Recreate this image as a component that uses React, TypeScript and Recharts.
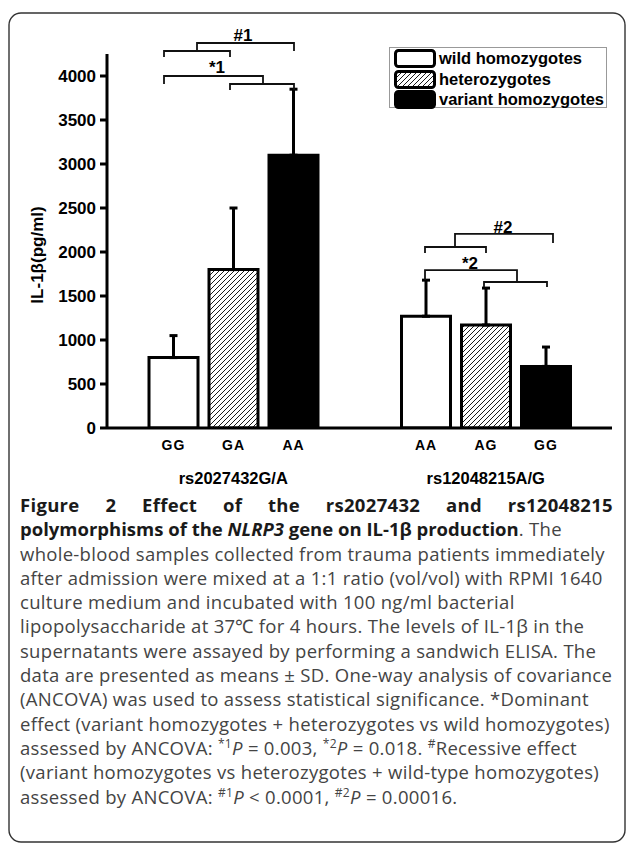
import { Bar, BarChart, ErrorBar, LabelList, XAxis, YAxis } from "recharts";

const groups = ["rs2027432G/A", "rs12048215A/G"];
const wildLabels = ["GG", "AA"];
const heteroLabels = ["GA", "AG"];
const variantLabels = ["AA", "GG"];
const wildMean = [800, 1270];
const wildSd = [250, 410];
const heteroMean = [1800, 1170];
const heteroSd = [700, 420];
const variantMean = [3100, 700];
const variantSd = [750, 220];
const yTicks = [0, 500, 1000, 1500, 2000, 2500, 3000, 3500, 4000];
const yMax = 4250;

const legendItems = [
  { label: "wild homozygotes", fill: "#fff" },
  { label: "heterozygotes", fill: "url(#hatch)" },
  { label: "variant homozygotes", fill: "#000" },
];

// significance brackets: x in px, y in pg/ml
const brackets = [
  { x1: 164, x2: 230, y: 4284, yL: 4216, yR: 4216 },
  { x1: 197, x2: 294, y: 4375, yL: 4284, yR: 4284 },
  { x1: 164, x2: 263, y: 4000, yL: 3909, yR: 3909 },
  { x1: 230, x2: 294, y: 3909, yL: 3841, yR: 3841 },
  { x1: 425, x2: 486, y: 2057, yL: 1989, yR: 1989 },
  { x1: 455, x2: 553, y: 2205, yL: 2057, yR: 2102 },
  { x1: 425, x2: 517, y: 1795, yL: 1682, yR: 1659 },
  { x1: 484, x2: 547, y: 1659, yL: 1602, yR: 1602 },
];
const bracketLabels = [
  { text: "#1", x: 243, y: 4466 },
  { text: "*1", x: 217, y: 4102 },
  { text: "#2", x: 503, y: 2284 },
  { text: "*2", x: 470, y: 1875 },
];

const W = 629;
const H = 490;
const M = { top: 54, right: 17, bottom: 0, left: 47 };
const X_AXIS_H = 62;
const plotBottom = H - M.bottom - X_AXIS_H;
const plotH = plotBottom - M.top;
const yPx = (v: number) => plotBottom - (v / yMax) * plotH;

const data = groups.map((g, i) => ({
  group: g,
  wild: wildMean[i],
  wildErr: [0, wildSd[i]],
  hetero: heteroMean[i],
  heteroErr: [0, heteroSd[i]],
  variant: variantMean[i],
  variantErr: [0, variantSd[i]],
}));

const chartFont = "'Liberation Sans', Arial, sans-serif";

const barLabel = (labels: string[]) => (props: any) => {
  const { x, y, width, height, index } = props;
  return (
    <text
      x={x + width / 2}
      y={y + height + 22}
      textAnchor="middle"
      fontFamily={chartFont}
      fontWeight="bold"
      fontSize={14}
      letterSpacing={1}
      fill="#000"
    >
      {labels[index]}
    </text>
  );
};

const GroupTick = (props: any) => {
  const { x, y, payload } = props;
  return (
    <text
      x={x}
      y={y + 54}
      textAnchor="middle"
      fontFamily={chartFont}
      fontWeight="bold"
      fontSize={16.5}
      fill="#000"
    >
      {payload.value}
    </text>
  );
};

const captionStyle: React.CSSProperties = {
  position: "absolute",
  left: 20,
  top: 493,
  width: 593,
  fontFamily: "'Open Sans', sans-serif",
  fontSize: 18.5,
  letterSpacing: 0.3,
  lineHeight: "24.3px",
  color: "#444",
};

const line: React.CSSProperties = { whiteSpace: "nowrap", height: 24.3 };
const sup: React.CSSProperties = { fontSize: "0.65em", verticalAlign: "0.55em", lineHeight: 0 };

export default function App() {
  return (
    <div
      style={{
        position: "absolute",
        left: 0,
        top: 0,
        width: W,
        height: 844,
        background: "#fff",
        overflow: "hidden",
      }}
    >
      <svg width={0} height={0} style={{ position: "absolute" }}>
        <defs>
          <pattern id="hatch" patternUnits="userSpaceOnUse" width={5} height={5}>
            <rect width={5} height={5} fill="#fff" />
            <path d="M-1,1 l2,-2 M0,5 l5,-5 M4,6 l2,-2" stroke="#000" strokeWidth={0.9} />
          </pattern>
        </defs>
      </svg>

      <svg width={W} height={844} style={{ position: "absolute", left: 0, top: 0 }}>
        <rect x={9} y={13} width={616} height={829} rx={12} fill="none" stroke="#333" strokeWidth={1.4} />
      </svg>

      <div style={{ position: "absolute", left: 0, top: 0 }}>
        <BarChart width={W} height={H} data={data} margin={M} barSize={49} barGap={11}>
          <XAxis
            dataKey="group"
            height={X_AXIS_H}
            tickLine={false}
            tickSize={0}
            axisLine={{ stroke: "#000", strokeWidth: 3 }}
            tick={<GroupTick />}
            interval={0}
          />
          <YAxis
            domain={[0, yMax]}
            ticks={yTicks}
            width={60}
            tickSize={7}
            tickMargin={4}
            axisLine={{ stroke: "#000", strokeWidth: 3 }}
            tickLine={{ stroke: "#000", strokeWidth: 3 }}
            tick={{ fill: "#000", fontFamily: chartFont, fontWeight: "bold", fontSize: 17 }}
            allowDataOverflow
          />
          <Bar dataKey="wild" fill="#fff" stroke="#000" strokeWidth={3} isAnimationActive={false}>
            <ErrorBar dataKey="wildErr" direction="y" width={4} stroke="#000" strokeWidth={3} />
            <LabelList dataKey="wild" content={barLabel(wildLabels)} />
          </Bar>
          <Bar dataKey="hetero" fill="url(#hatch)" stroke="#000" strokeWidth={3} isAnimationActive={false}>
            <ErrorBar dataKey="heteroErr" direction="y" width={4} stroke="#000" strokeWidth={3} />
            <LabelList dataKey="hetero" content={barLabel(heteroLabels)} />
          </Bar>
          <Bar dataKey="variant" fill="#000" stroke="#000" strokeWidth={3} isAnimationActive={false}>
            <ErrorBar dataKey="variantErr" direction="y" width={4} stroke="#000" strokeWidth={3} />
            <LabelList dataKey="variant" content={barLabel(variantLabels)} />
          </Bar>
        </BarChart>
      </div>

      {/* y label, brackets */}
      <svg width={W} height={H} style={{ position: "absolute", left: 0, top: 0, pointerEvents: "none" }}>
        <text
          transform="translate(43,255) rotate(-90)"
          textAnchor="middle"
          fontFamily={chartFont}
          fontWeight="bold"
          fontSize={17}
          fill="#000"
        >
          IL-1β(pg/ml)
        </text>
        {brackets.map((b, i) => (
          <path
            key={i}
            d={`M${b.x1},${yPx(b.yL)} V${yPx(b.y)} H${b.x2} V${yPx(b.yR)}`}
            fill="none"
            stroke="#111"
            strokeWidth={1.8}
          />
        ))}
        {bracketLabels.map((l) => (
          <text
            key={l.text}
            x={l.x}
            y={yPx(l.y) + 6}
            textAnchor="middle"
            fontFamily={chartFont}
            fontWeight="bold"
            fontSize={17}
            fill="#000"
          >
            {l.text}
          </text>
        ))}
      </svg>

      {/* legend */}
      <div
        style={{
          position: "absolute",
          left: 389,
          top: 47,
          width: 218,
          height: 61,
          border: "1px solid #999",
          boxSizing: "border-box",
          padding: "1px 0 0 4px",
        }}
      >
        {legendItems.map((it) => (
          <div key={it.label} style={{ display: "flex", alignItems: "center", height: 19.5, marginBottom: 1 }}>
            <svg width={42} height={19}>
              <rect x={1.5} y={1.5} width={39} height={16} rx={3} fill={it.fill} stroke="#000" strokeWidth={3} />
            </svg>
            <span
              style={{
                marginLeft: 3,
                fontFamily: chartFont,
                fontWeight: "bold",
                fontSize: 16.5,
                color: "#000",
                whiteSpace: "nowrap",
              }}
            >
              {it.label}
            </span>
          </div>
        ))}
      </div>

      {/* caption */}
      <div style={captionStyle}>
        <div style={{ ...line, display: "flex", justifyContent: "space-between", fontWeight: "bold", color: "#1a1a1a" }}>
          {"Figure 2 Effect of the rs2027432 and rs12048215".split(" ").map((w, i) => (
            <span key={i}>{w}</span>
          ))}
        </div>
        <div style={line}>
          <b style={{ color: "#1a1a1a", letterSpacing: 0 }}>
            polymorphisms of the <i>NLRP3</i> gene on IL-1β production
          </b>
          . The
        </div>
        <div style={line}>whole-blood samples collected from trauma patients immediately</div>
        <div style={line}>after admission were mixed at a 1:1 ratio (vol/vol) with RPMI 1640</div>
        <div style={line}>culture medium and incubated with 100 ng/ml bacterial</div>
        <div style={line}>lipopolysaccharide at 37℃ for 4 hours. The levels of IL-1β in the</div>
        <div style={line}>supernatants were assayed by performing a sandwich ELISA. The</div>
        <div style={line}>data are presented as means ± SD. One-way analysis of covariance</div>
        <div style={line}>(ANCOVA) was used to assess statistical significance. *Dominant</div>
        <div style={line}>effect (variant homozygotes + heterozygotes vs wild homozygotes)</div>
        <div style={line}>
          assessed by ANCOVA: <span style={sup}>*1</span>
          <i>P</i> = 0.003, <span style={sup}>*2</span>
          <i>P</i> = 0.018. <span style={sup}>#</span>Recessive effect
        </div>
        <div style={line}>(variant homozygotes vs heterozygotes + wild-type homozygotes)</div>
        <div style={line}>
          assessed by ANCOVA: <span style={sup}>#1</span>
          <i>P</i> &lt; 0.0001, <span style={sup}>#2</span>
          <i>P</i> = 0.00016.
        </div>
      </div>
    </div>
  );
}
